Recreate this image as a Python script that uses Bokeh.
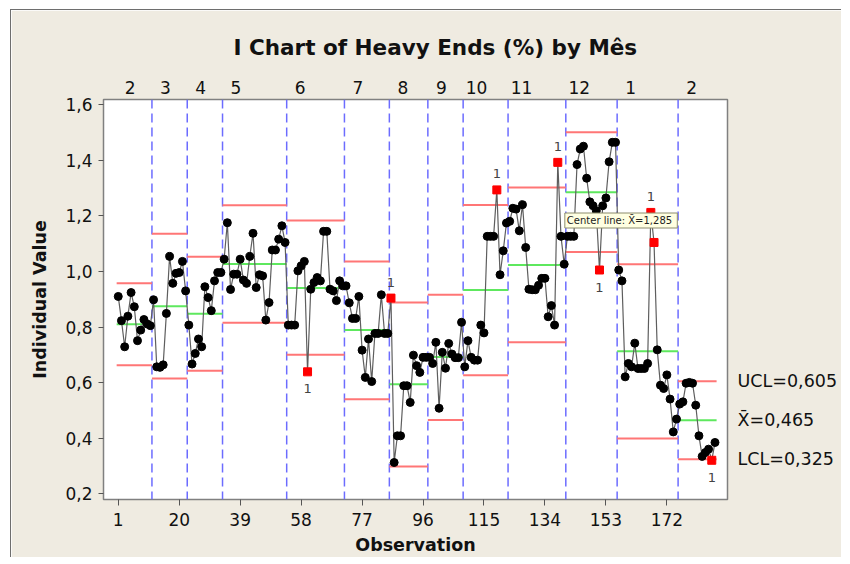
import numpy as np
from bokeh.plotting import figure
from bokeh.models import (Range1d, FixedTicker, LinearAxis, CustomJSTickFormatter,
                          Span, Label, LabelSet, ColumnDataSource)
from bokeh.core.properties import value
from bokeh.embed import file_html
from bokeh.resources import INLINE

# ---------------- data ----------------
stage_names = ["2", "3", "4", "5", "6", "7", "8", "9", "10", "11", "12", "1", "2"]
stage_sizes = [11, 11, 11, 20, 18, 14, 12, 11, 14, 18, 16, 19, 12]
stage_cl  = [0.810, 0.875, 0.848, 1.027, 0.940, 0.789, 0.594, 0.692, 0.933, 1.023, 1.285, 0.713, 0.465]
stage_ucl = [0.957, 1.135, 1.053, 1.238, 1.183, 1.036, 0.888, 0.916, 1.239, 1.302, 1.500, 1.026, 0.605]
stage_lcl = [0.663, 0.615, 0.643, 0.815, 0.700, 0.540, 0.299, 0.466, 0.627, 0.745, 1.070, 0.399, 0.325]

heavy_ends = [
    0.910, 0.823, 0.729, 0.839, 0.924, 0.873, 0.751, 0.789, 0.827, 0.811, 0.805,
    0.898, 0.657, 0.655, 0.664, 0.849, 1.054, 0.957, 0.993, 0.996, 1.036, 0.930,
    0.807, 0.667, 0.705, 0.757, 0.729, 0.945, 0.906, 0.859, 0.966, 0.996, 0.996,
    1.044, 1.175, 0.935, 0.990, 0.990, 1.044, 0.969, 0.957, 1.054, 1.137,
    0.942, 0.988, 0.984, 0.825, 0.888, 1.077, 1.077, 1.116, 1.164, 1.104,
    0.807, 0.807, 0.807, 1.002, 1.020, 1.036, 0.639, 0.936, 0.960, 0.978,
    0.966, 1.144, 1.144, 0.936, 0.930, 0.895, 0.966, 0.948,
    0.948, 0.887, 0.831, 0.831, 0.910, 0.717, 0.619, 0.757, 0.604, 0.777, 0.777, 0.916, 0.777, 0.777,
    0.904, 0.313, 0.409, 0.409, 0.589, 0.589, 0.529, 0.699, 0.661, 0.637, 0.691, 0.691,
    0.691, 0.669, 0.745, 0.508, 0.709, 0.652, 0.741, 0.703, 0.690, 0.690, 0.817,
    0.657, 0.751, 0.691, 0.681, 0.681, 0.807, 0.779, 1.126, 1.126, 1.126, 1.293, 0.988, 1.074, 1.174,
    1.180, 1.227, 1.224, 1.146, 1.240, 1.086, 0.936, 0.934, 0.934,
    0.950, 0.975, 0.975, 0.837, 0.877, 0.807, 1.392, 1.126, 1.026,
    1.126, 1.126, 1.126, 1.384, 1.440, 1.450, 1.335, 1.250, 1.236, 1.218, 1.005, 1.236, 1.264, 1.394, 1.464, 1.464,
    1.005, 0.966, 0.621, 0.669, 0.657, 0.742, 0.651, 0.651, 0.651, 0.669,
    1.212, 1.104, 0.718, 0.591, 0.579, 0.628, 0.541, 0.423, 0.469,
    0.523, 0.531, 0.598, 0.601, 0.598, 0.519, 0.409, 0.335, 0.349, 0.361, 0.321, 0.385,
]

x_ticks = [1, 20, 39, 58, 77, 96, 115, 134, 153, 172]
y_ticks = [0.2, 0.4, 0.6, 0.8, 1.0, 1.2, 1.4, 1.6]
labelled_tests = [60, 86, 119, 138, 151, 167, 186]   # points carrying the "1" test label
tooltip_stage = 10                                     # stage whose centre line tooltip is shown

# ---------------- styling ----------------
BEIGE = "#EFEBE1"
FONT = "DejaVu Sans"
RED = "#ff7676"
GREEN = "#5ee85e"
BLUE = "#6c6cff"

n = len(heavy_ends)
obs = np.arange(1, n + 1)
vals = np.array(heavy_ends)
sizes = np.array(stage_sizes)
starts = np.concatenate([[1], 1 + np.cumsum(sizes)[:-1]])
ends = starts + sizes - 1
stage_idx = np.repeat(np.arange(len(sizes)), sizes)

ucl_pt = np.array(stage_ucl)[stage_idx]
lcl_pt = np.array(stage_lcl)[stage_idx]
out = (vals > ucl_pt) | (vals < lcl_pt)

x_start, x_end = -3.6, 190.9
y_start, y_end = 0.180, 1.618


def fmt(v):
    return f"{v:.3f}".replace(".", ",")


p = figure(frame_width=624, frame_height=400,
           x_range=Range1d(x_start, x_end), y_range=Range1d(y_start, y_end),
           output_backend="svg", toolbar_location=None,
           min_border_left=92, min_border_right=114, min_border_top=89, min_border_bottom=55,
           background_fill_color="white", border_fill_color=BEIGE,
           outline_line_color="#808080", outline_line_width=1.5,
           margin=(9, 0, 0, 10),
           styles={"border-top": "1px solid #6e6e6e", "border-left": "1px solid #6e6e6e"})
p.grid.visible = False

# title
p.title.text = "I Chart of Heavy Ends (%) by Mês"
p.title.align = "left"
p.title.offset = 130
p.title.standoff = 36
p.title.text_font = FONT
p.title.text_font_size = "21.5px"
p.title.text_font_style = "bold"
p.title.text_color = "#111111"

# axes
for ax in (p.xaxis[0], p.yaxis[0]):
    ax.axis_line_color = None
    ax.major_tick_line_color = "#555555"
    ax.major_tick_in = 0
    ax.major_tick_out = 5
    ax.minor_tick_line_color = None
    ax.major_label_text_font = FONT
    ax.major_label_text_font_size = "17px"
    ax.major_label_text_color = "#111111"
    ax.axis_label_text_font = FONT
    ax.axis_label_text_font_size = "17.5px"
    ax.axis_label_text_font_style = "bold"
    ax.axis_label_text_color = "#111111"

p.xaxis.ticker = FixedTicker(ticks=x_ticks)
p.xaxis.axis_label = "Observation"
p.xaxis.major_label_standoff = 7
p.xaxis.axis_label_standoff = 6
p.xaxis.major_tick_out = 6

p.yaxis.ticker = FixedTicker(ticks=y_ticks)
p.yaxis.formatter = CustomJSTickFormatter(code="return tick.toFixed(1).replace('.', ',');")
p.yaxis.axis_label = "Individual Value"
p.yaxis.major_label_standoff = 6
p.yaxis.axis_label_standoff = 12

nearest_js = """
let best = -1, bd = 1e9;
for (let i = 0; i < pos.length; i++) { const d = Math.abs(pos[i] - tick); if (d < bd) { bd = d; best = i; } }
return bd < 1e-6 ? names[best] : "";
"""

# stage labels on top
label_pos = [float(s) + 3.7 for s in starts]
top = LinearAxis(ticker=FixedTicker(ticks=label_pos),
                 formatter=CustomJSTickFormatter(args=dict(pos=label_pos, names=stage_names), code=nearest_js),
                 axis_line_color=None, major_tick_line_color=None, minor_tick_line_color=None,
                 major_tick_in=0, major_tick_out=0,
                 major_label_text_font=FONT, major_label_text_font_size="17px",
                 major_label_text_color="#111111", major_label_standoff=6)
p.add_layout(top, "above")

# limit labels of the last stage, on the right
right_pos = [stage_ucl[-1], stage_cl[-1], stage_lcl[-1]]
right_names = [f"UCL={fmt(stage_ucl[-1])}", f"X\u0304={fmt(stage_cl[-1])}", f"LCL={fmt(stage_lcl[-1])}"]
right = LinearAxis(ticker=FixedTicker(ticks=right_pos),
                   formatter=CustomJSTickFormatter(args=dict(pos=right_pos, names=right_names), code=nearest_js),
                   axis_line_color=None, major_tick_line_color=None, minor_tick_line_color=None,
                   major_tick_in=0, major_tick_out=0,
                   major_label_text_font=FONT, major_label_text_font_size="17.5px",
                   major_label_text_color="#111111", major_label_standoff=10)
p.add_layout(right, "right")

# stage boundaries
for s in starts[1:]:
    p.add_layout(Span(location=float(s) - 0.5, dimension="height", line_color=BLUE,
                      line_dash="9 5", line_width=1.5, level="underlay"))

# control limits per stage
x0 = starts - 0.5
x1 = ends + 0.5
p.segment(x0=x0, y0=stage_ucl, x1=x1, y1=stage_ucl, line_color=RED, line_width=2)
p.segment(x0=x0, y0=stage_lcl, x1=x1, y1=stage_lcl, line_color=RED, line_width=2)
p.segment(x0=x0, y0=stage_cl, x1=x1, y1=stage_cl, line_color=GREEN, line_width=2)

# data
p.line(obs, vals, line_color="#5e5e5e", line_width=1.2)
p.scatter(obs[~out], vals[~out], marker="circle", size=8, fill_color="black", line_color="black")
p.scatter(obs[out], vals[out], marker="square", size=8, fill_color="#ff0000", line_color="#ff0000")

# test labels
lab_x, lab_y, lab_dy = [], [], []
for o in labelled_tests:
    i = o - 1
    lab_x.append(float(obs[i]))
    lab_y.append(float(vals[i]))
    lab_dy.append(16 if vals[i] > ucl_pt[i] else -17)
p.add_layout(LabelSet(x="x", y="y", y_offset="dy", text="t",
                      source=ColumnDataSource(dict(x=lab_x, y=lab_y, dy=lab_dy, t=["1"] * len(lab_x))),
                      text_align="center", text_baseline="middle", text_font=value(FONT),
                      text_font_size="13px", text_color="#444444"))

# centre-line tooltip
p.add_layout(Label(x=float(starts[tooltip_stage]) - 0.8, y=1.183,
                   text=f"Center line:  X\u0304={fmt(stage_cl[tooltip_stage])}",
                   text_align="left", text_baseline="middle", text_font=FONT,
                   text_font_size="10px", text_color="#222222",
                   background_fill_color="#FFFFE1", border_line_color="#8c8c6c",
                   padding=2))

open("out.html", "w").write(file_html(p, INLINE))
